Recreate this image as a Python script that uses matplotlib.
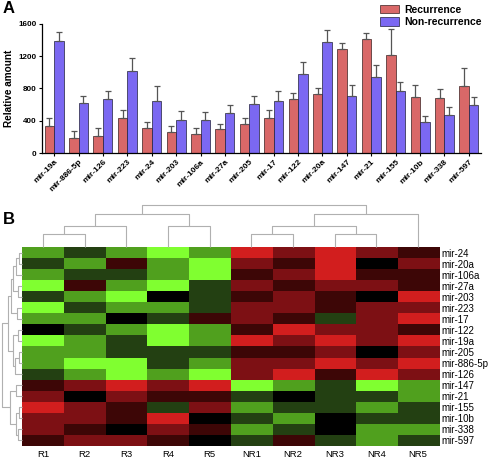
import matplotlib
matplotlib.use('Agg')
import matplotlib.pyplot as plt
import numpy as np
from matplotlib.colors import ListedColormap, BoundaryNorm
from matplotlib.patches import Patch

plt.rcParams['font.family'] = ['Liberation Sans', 'DejaVu Sans']

# ---------------- Panel A data ----------------
mirnas = ['mir-19a', 'mir-886-5p', 'mir-126', 'mir-223', 'mir-24', 'mir-203',
          'mir-106a', 'mir-27a', 'mir-205', 'mir-17', 'mir-122', 'mir-20a',
          'mir-147', 'mir-21', 'mir-155', 'mir-10b', 'mir-338', 'mir-597']
recurrence = [340, 185, 210, 430, 310, 260, 235, 295, 360, 435, 668, 734,
              1292, 1415, 1214, 697, 677, 836]
recurrence_err = [100, 85, 95, 105, 80, 70, 70, 70, 72, 100, 70, 75,
                  70, 75, 320, 150, 120, 220]
nonrecurrence = [1390, 615, 665, 1020, 650, 410, 410, 490, 603, 644, 976, 1378,
                 713, 947, 775, 385, 467, 590]
nonrecurrence_err = [110, 95, 105, 155, 185, 110, 100, 100, 105, 120, 150, 150,
                     125, 145, 110, 80, 100, 105]
yticks = [0, 400, 800, 1200, 1600]

# ---------------- Panel B data ----------------
heat_rows = ['mir-24', 'mir-20a', 'mir-106a', 'mir-27a', 'mir-203', 'mir-223',
             'mir-17', 'mir-122', 'mir-19a', 'mir-205', 'mir-886-5p', 'mir-126',
             'mir-147', 'mir-21', 'mir-155', 'mir-10b', 'mir-338', 'mir-597']
heat_cols = ['R1', 'R2', 'R3', 'R4', 'R5', 'NR1', 'NR2', 'NR3', 'NR4', 'NR5']
heat_values = [
    [-2, -1, -2, -3, -2, 3, 2, 3, 2, 1],
    [-1, -2, 1, -2, -3, 2, 1, 3, 0, 2],
    [-2, -1, -1, -2, -3, 1, 2, 3, 1, 1],
    [-3, 1, -2, -3, -1, 2, 1, 2, 2, 1],
    [-1, -2, -3, 0, -1, 1, 2, 1, 0, 3],
    [-3, -1, -2, -2, -1, 2, 2, 1, 2, 2],
    [-2, -2, 0, -1, 1, 2, 1, -1, 2, 3],
    [0, -1, -2, -3, -2, 1, 3, 2, 2, 1],
    [-3, -2, -1, -3, -2, 3, 2, 3, 2, 3],
    [-2, -2, -1, -1, -1, 1, 1, 2, 0, 2],
    [-2, -3, -3, -1, -2, 2, 2, 3, 2, 3],
    [-1, -2, -3, -2, -3, 2, 3, 1, 3, 2],
    [1, 2, 3, 2, 3, -3, -2, -1, -3, -2],
    [2, 0, 2, 1, 1, -1, 0, -1, -1, -2],
    [3, 2, 1, -1, 2, -2, -1, -1, -2, -1],
    [2, 2, 1, 3, 0, -1, -2, 0, -1, -1],
    [2, 1, 0, 2, 1, -2, -1, 0, -2, -2],
    [1, 2, 2, 1, 0, -1, 1, -1, -2, -1],
]
# dendrogram merges: (child a, child b, height)
col_links = [(0, 1, 1.3), (10, 2, 2.1), (3, 4, 2.1), (11, 12, 3.3),
             (5, 6, 1.3), (7, 8, 1.3), (14, 15, 2.1), (16, 9, 3.3), (13, 17, 4.2)]
row_links = [(0, 1, 3), (18, 2, 6), (3, 4, 4), (19, 20, 9), (5, 6, 5),
             (21, 22, 11), (7, 8, 4), (9, 10, 3), (25, 11, 7), (24, 26, 9),
             (23, 27, 14), (12, 13, 6), (14, 15, 3), (16, 17, 4), (30, 31, 6),
             (29, 32, 12), (28, 33, 20)]

W, H = 491, 461
fig = plt.figure(figsize=(W / 100, H / 100), dpi=100)


def ax_px(l, t, r, b):
    return fig.add_axes([l / W, 1 - b / H, (r - l) / W, (b - t) / H])


# ---------------- Panel A ----------------
red = '#D96868'
blue = '#7B68F2'
ax = ax_px(42, 24, 481, 153)
x = np.arange(len(mirnas))
w = 0.39
ekw = dict(ecolor='#555555', elinewidth=0.9, capsize=2.2, capthick=0.9)
ax.bar(x - w / 2, recurrence, w, color=red, edgecolor='#3a2020', linewidth=0.5,
       yerr=[np.zeros(len(x)), recurrence_err], error_kw=ekw)
ax.bar(x + w / 2, nonrecurrence, w, color=blue, edgecolor='#20203a', linewidth=0.5,
       yerr=[np.zeros(len(x)), nonrecurrence_err], error_kw=ekw)
ax.set_xlim(-0.5, len(mirnas) - 0.5)
ax.set_ylim(0, 1600)
ax.set_yticks(yticks)
ax.set_yticklabels([str(v) for v in yticks], fontsize=5.8, fontweight='bold')
ax.set_xticks(x)
ax.set_xticklabels(mirnas, rotation=45, ha='right', rotation_mode='anchor',
                   fontsize=6.0, fontweight='bold')
ax.tick_params(axis='both', direction='out', length=2.5, width=0.8, pad=1.5)
ax.set_ylabel('Relative amount', fontsize=7.2, fontweight='bold', labelpad=3)
for s in ['top', 'right']:
    ax.spines[s].set_visible(False)
for s in ['left', 'bottom']:
    ax.spines[s].set_linewidth(0.9)

handles = [Patch(facecolor=red, edgecolor='#3a2020', linewidth=0.5, label='Recurrence'),
           Patch(facecolor=blue, edgecolor='#20203a', linewidth=0.5, label='Non-recurrence')]
fig.legend(handles=handles, loc='upper right', bbox_to_anchor=(1.0, 1.01),
           frameon=False, prop=dict(size=7.5, weight='bold'),
           handlelength=1.8, handleheight=0.9, handletextpad=0.5, labelspacing=0.25)

fig.text(3 / W, 1 - 1 / H, 'A', fontsize=12, fontweight='bold', va='top', ha='left')
fig.text(3 / W, 1 - 212 / H, 'B', fontsize=12, fontweight='bold', va='top', ha='left')

# ---------------- Panel B ----------------
green_red = ListedColormap(['#80FF30', '#50A01E', '#234012', '#000000',
                            '#3D0606', '#7D1014', '#D21E1E'])
norm = BoundaryNorm(np.arange(-3.5, 4.0, 1.0), green_red.N)
hx = ax_px(22, 247, 439, 446)
hx.imshow(np.array(heat_values), cmap=green_red, norm=norm, aspect='auto',
          interpolation='nearest')
hx.yaxis.tick_right()
hx.set_yticks(np.arange(len(heat_rows)))
hx.set_yticklabels(heat_rows, fontsize=7)
hx.set_xticks(np.arange(len(heat_cols)))
hx.set_xticklabels(heat_cols, fontsize=6.8)
hx.tick_params(length=0, pad=2)
hx.tick_params(axis='x', pad=3)
for s in hx.spines.values():
    s.set_visible(False)

lc = '#b0b0b0'


def draw_dendro(a, links, n, orient):
    pos = {i: float(i) for i in range(n)}
    hgt = {i: 0.0 for i in range(n)}
    for k, (p, q, h) in enumerate(links):
        xa, xb = pos[p], pos[q]
        ha_, hb = hgt[p], hgt[q]
        if orient == 'top':
            a.plot([xa, xa, xb, xb], [ha_, h, h, hb], color=lc, lw=0.8,
                   clip_on=False, solid_capstyle='butt')
        else:
            a.plot([ha_, h, h, hb], [xa, xa, xb, xb], color=lc, lw=0.8,
                   clip_on=False, solid_capstyle='butt')
        pos[n + k] = (xa + xb) / 2
        hgt[n + k] = h


tx = ax_px(22, 205, 439, 247)
draw_dendro(tx, col_links, len(heat_cols), 'top')
tx.set_xlim(-0.5, len(heat_cols) - 0.5)
tx.set_ylim(0, 4.2)
tx.axis('off')

rx = ax_px(0, 247, 22, 446)
draw_dendro(rx, row_links, len(heat_rows), 'left')
rx.set_ylim(len(heat_rows) - 0.5, -0.5)
rx.set_xlim(22, 0)
rx.axis('off')

fig.savefig('out.png', dpi=100)
